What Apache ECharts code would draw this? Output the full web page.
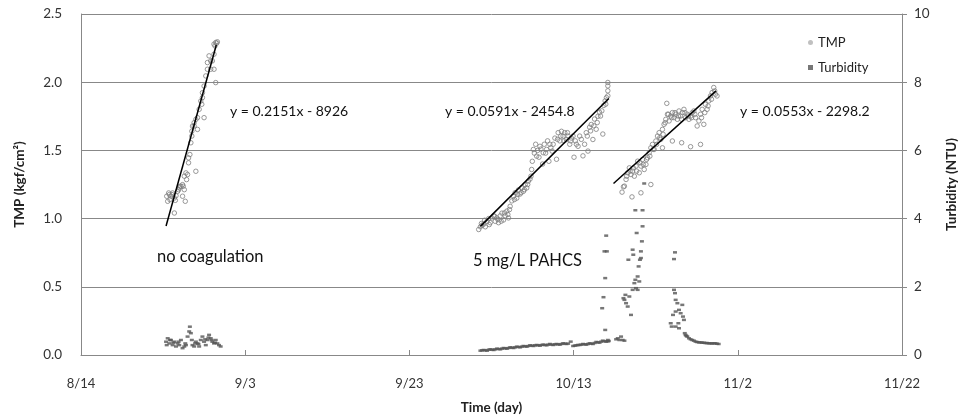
<!DOCTYPE html>
<html>
<head>
<meta charset="utf-8">
<script src="https://cdn.jsdelivr.net/npm/echarts@6/dist/echarts.min.js"></script>
<style>
html,body{margin:0;padding:0;background:#fff;}
#chart{width:967px;height:420px;}
</style>
</head>
<body>
<div id="chart"></div>
<script>
// x values: days since 8/14
const xTickLabels = ['8/14', '9/3', '9/23', '10/13', '11/2', '11/22'];

const tmpRun1 = [[10.56,1.127],[10.76,1.176],[10.96,1.164],[11.16,1.188],[11.37,1.151],[11.57,1.168],[11.77,1.20],[11.97,1.225],[12.17,1.237],[12.37,1.249],[12.58,1.212],[12.70,1.127],[12.37,1.164],[11.37,1.041],[10.44,1.164],[10.84,1.139],[12.58,1.311],[12.78,1.335],[12.86,1.286],[12.98,1.323],[13.99,1.347],[13.10,1.445],[13.26,1.47],[13.38,1.556],[13.50,1.605],[13.58,1.678],[13.78,1.703],[13.99,1.727],[14.19,1.654],[13.50,1.641],[14.99,1.74],[14.39,1.801],[14.59,1.862],[14.79,1.887],[14.71,1.838],[14.99,1.972],[15.20,2.046],[15.40,2.095],[15.80,2.095],[16.20,2.095],[16.41,1.997],[15.40,2.144],[15.60,2.193],[15.80,2.156],[16.0,2.156],[16.20,2.205],[16.20,2.279],[16.41,2.291],[16.61,2.296],[16.32,2.266],[16.53,2.286],[10.68,1.188],[11.08,1.176],[11.89,1.212],[12.05,1.237],[11.49,1.134],[12.45,1.237],[13.10,1.409],[13.78,1.678],[14.19,1.74],[14.79,1.923]];

const tmpRun2 = [[48.44,0.92],[48.65,0.94],[48.85,0.95],[49.05,0.96],[49.25,0.94],[49.45,0.98],[49.65,1.00],[49.85,0.97],[50.06,1.005],[50.26,1.02],[50.46,0.98],[50.66,1.005],[50.86,0.97],[51.06,1.02],[51.27,1.04],[51.47,0.99],[51.67,1.02],[51.87,1.055],[52.07,1.005],[52.27,1.09],[52.48,1.13],[52.68,1.165],[52.88,1.19],[53.08,1.15],[53.28,1.21],[53.48,1.18],[53.68,1.225],[53.89,1.20],[54.09,1.25],[54.29,1.225],[54.49,1.275],[54.69,1.29],[54.89,1.36],[54.97,1.42],[55.22,1.48],[55.38,1.545],[55.62,1.50],[55.78,1.45],[56.02,1.51],[56.22,1.40],[56.43,1.545],[56.59,1.48],[56.83,1.57],[56.99,1.42],[57.23,1.52],[57.51,1.545],[57.72,1.59],[57.92,1.435],[58.12,1.63],[58.32,1.57],[58.52,1.64],[58.72,1.605],[58.92,1.63],[59.13,1.58],[59.33,1.605],[59.53,1.545],[59.73,1.59],[60.05,1.45],[60.21,1.57],[60.54,1.53],[60.74,1.605],[61.14,1.46],[61.34,1.545],[61.54,1.63],[61.75,1.495],[61.95,1.67],[62.15,1.69],[62.35,1.58],[62.55,1.73],[62.75,1.655],[62.96,1.75],[63.16,1.78],[63.56,1.62],[63.68,1.83],[63.84,1.863],[64.00,1.887],[64.17,1.90],[64.17,1.937],[64.17,1.973],[64.17,1.998],[48.77,0.964],[49.17,0.988],[49.73,0.956],[50.38,1.017],[50.78,0.993],[51.18,0.981],[51.59,1.042],[51.99,1.03],[52.19,1.066],[52.80,1.14],[53.20,1.177],[53.60,1.19],[54.01,1.213],[54.41,1.25],[54.81,1.311],[55.10,1.507],[55.50,1.458],[55.90,1.53],[56.30,1.483],[56.71,1.507],[57.11,1.545],[57.39,1.495],[58.04,1.581],[58.44,1.605],[58.84,1.57],[59.25,1.63],[59.65,1.57],[59.93,1.605],[60.34,1.545],[60.94,1.581],[61.67,1.605],[62.07,1.643],[62.47,1.68],[62.88,1.704],[63.28,1.752],[63.44,1.79],[63.92,1.839]];

const tmpRun3 = [[65.90,1.194],[66.07,1.233],[66.19,1.238],[66.39,1.287],[66.59,1.336],[66.79,1.372],[66.99,1.323],[67.19,1.348],[67.40,1.311],[67.60,1.385],[67.80,1.421],[68.00,1.336],[68.20,1.385],[68.40,1.434],[68.60,1.36],[68.81,1.397],[69.01,1.446],[69.21,1.483],[69.41,1.519],[69.61,1.544],[69.81,1.507],[70.02,1.569],[70.22,1.605],[70.42,1.63],[70.62,1.581],[70.82,1.654],[71.02,1.691],[71.23,1.728],[71.35,1.845],[71.43,1.765],[71.63,1.716],[71.83,1.752],[72.03,1.777],[72.23,1.74],[72.43,1.765],[72.64,1.728],[72.84,1.789],[73.04,1.752],[73.24,1.777],[73.44,1.801],[73.64,1.74],[73.85,1.765],[74.05,1.728],[74.25,1.752],[74.45,1.777],[74.65,1.789],[74.85,1.74],[75.05,1.679],[75.26,1.716],[75.46,1.765],[75.66,1.801],[75.86,1.691],[76.06,1.838],[76.26,1.801],[76.47,1.863],[76.67,1.899],[76.87,1.924],[77.07,1.961],[77.27,1.912],[77.47,1.899],[67.11,1.159],[68.20,1.189],[69.41,1.25],[72.03,1.569],[73.16,1.556],[74.25,1.527],[75.46,1.544],[70.82,1.519],[66.47,1.311],[66.87,1.348],[67.27,1.372],[67.68,1.348],[68.08,1.409],[68.48,1.397],[68.89,1.434],[69.29,1.458],[69.69,1.507],[70.10,1.544],[70.50,1.593],[70.90,1.618],[71.15,1.703],[71.55,1.765],[71.95,1.74],[72.35,1.777],[72.76,1.752],[73.16,1.728],[73.56,1.777],[73.97,1.752],[74.37,1.74],[74.77,1.765],[75.58,1.74],[75.98,1.777],[76.38,1.826],[76.79,1.875],[77.19,1.936]];

const turbRun1 = [[10.36,0.39],[10.56,0.49],[10.76,0.34],[10.96,0.44],[11.16,0.29],[11.37,0.39],[11.57,0.25],[11.77,0.34],[11.97,0.29],[12.17,0.44],[12.37,0.20],[12.58,0.25],[12.78,0.29],[12.98,0.54],[13.18,0.69],[13.26,0.83],[13.38,0.64],[13.50,0.44],[13.58,0.29],[13.78,0.25],[13.99,0.39],[14.19,0.34],[14.39,0.25],[14.59,0.44],[14.79,0.54],[14.99,0.39],[15.20,0.29],[15.40,0.44],[15.60,0.59],[15.80,0.49],[16.0,0.39],[16.20,0.34],[16.41,0.44],[16.61,0.34],[16.81,0.29],[17.01,0.25],[10.44,0.29],[10.84,0.44],[11.24,0.36],[11.89,0.39],[12.70,0.34],[13.90,0.34],[14.31,0.32],[15.12,0.46],[15.52,0.51],[15.92,0.44],[16.32,0.36]];

const turbRun2 = [[48.65,0.127],[49.05,0.147],[49.46,0.127],[49.86,0.166],[50.26,0.147],[50.66,0.186],[51.07,0.166],[51.47,0.205],[51.87,0.186],[52.28,0.225],[52.68,0.205],[53.08,0.245],[53.49,0.225],[53.89,0.264],[54.29,0.245],[54.70,0.284],[55.10,0.264],[55.50,0.294],[55.90,0.274],[56.31,0.304],[56.71,0.284],[57.11,0.323],[57.52,0.294],[57.92,0.323],[58.32,0.304],[58.73,0.343],[59.13,0.323],[59.65,0.392],[59.94,0.264],[60.34,0.284],[60.74,0.294],[61.15,0.323],[61.55,0.304],[61.95,0.343],[62.35,0.323],[62.76,0.382],[63.16,0.362],[63.56,0.421],[63.97,0.392],[64.29,0.411],[63.97,3.50],[63.76,3.039],[64.05,3.039],[63.85,2.255],[63.64,1.695],[63.48,1.372],[63.85,0.735],[64.17,0.44],[48.85,0.137],[49.25,0.137],[49.66,0.156],[50.06,0.156],[50.46,0.166],[50.86,0.176],[51.27,0.186],[51.67,0.196],[52.07,0.205],[52.48,0.215],[52.88,0.225],[53.28,0.235],[53.69,0.245],[54.09,0.255],[54.49,0.264],[54.90,0.274],[55.30,0.284],[55.70,0.284],[56.11,0.294],[56.51,0.294],[56.91,0.304],[57.32,0.304],[57.72,0.313],[58.12,0.313],[58.53,0.323],[58.93,0.333],[59.33,0.333],[60.14,0.274],[60.54,0.294],[60.94,0.304],[61.35,0.313],[61.75,0.323],[62.15,0.333],[62.56,0.352],[62.96,0.372],[63.36,0.392],[63.76,0.401],[64.17,0.401]];

const turbRun3 = [[65.38,0.49],[65.58,0.44],[65.78,0.54],[65.98,0.44],[65.18,0.46],[66.19,0.42],[66.07,1.666],[66.19,1.617],[66.39,1.519],[66.59,1.421],[66.31,1.764],[66.79,1.715],[66.99,1.176],[67.19,1.911],[67.40,2.107],[67.52,2.206],[67.60,1.96],[67.80,1.911],[67.80,2.303],[68.00,2.157],[67.92,2.598],[68.08,2.794],[68.20,2.843],[68.20,3.039],[67.27,2.941],[67.19,3.088],[68.32,3.333],[68.40,3.774],[67.68,3.578],[66.67,2.794],[68.40,4.245],[67.52,4.245],[68.60,5.03],[72.35,3.01],[72.23,2.813],[72.23,1.911],[72.35,1.813],[72.43,1.617],[72.64,1.519],[72.11,1.176],[72.43,1.274],[72.84,1.323],[73.04,1.225],[73.24,1.47],[73.32,1.127],[73.44,1.029],[72.76,0.931],[71.83,0.931],[71.95,0.833],[72.43,0.833],[72.84,0.784],[73.64,0.588],[74.05,0.49],[74.45,0.44],[74.85,0.392],[75.66,0.362],[76.47,0.343],[77.27,0.343],[77.67,0.323],[73.85,0.54],[74.25,0.46],[74.65,0.42],[75.05,0.38],[75.26,0.37],[75.46,0.37],[75.86,0.36],[76.06,0.35],[76.26,0.35],[76.67,0.34],[76.87,0.34],[77.07,0.34],[77.47,0.33],[73.54,0.64],[73.74,0.56]];

const trend1 = [[10.36,0.946],[16.48,2.273]];
const trend2 = [[48.65,0.943],[64.29,1.88]];
const trend3 = [[64.86,1.257],[77.35,1.936]];

const trendLabels = ['y = 0.2151x - 8926', 'y = 0.0591x - 2454.8', 'y = 0.0553x - 2298.2'];
const runLabels = ['no coagulation', '5 mg/L PAHCS'];

const FONT = 'Lato, "Open Sans", sans-serif';
const chart = echarts.init(document.getElementById('chart'), null, {renderer: 'canvas'});

const trendSeries = [trend1, trend2, trend3].map(d => ({
  type: 'line', data: d, xAxisIndex: 0, yAxisIndex: 0,
  showSymbol: false, symbol: 'none', silent: true,
  lineStyle: {color: '#000', width: 1.5}, z: 5, animation: false
}));

chart.setOption({
  animation: false,
  backgroundColor: '#fff',
  textStyle: {fontFamily: FONT},
  grid: {left: 81, right: 59, top: 14, bottom: 65, containLabel: false},
  legend: {
    orient: 'vertical', left: 803, top: 31, itemGap: 12,
    itemWidth: 5, itemHeight: 5,
    textStyle: {fontFamily: FONT, fontSize: 13, color: '#222'},
    data: [
      {name: 'TMP', icon: 'circle', itemStyle: {color: '#b0b0b0', borderWidth: 0}},
      {name: 'Turbidity', icon: 'rect', itemStyle: {color: '#555'}}
    ]
  },
  xAxis: {
    type: 'value', min: 0, max: 100, interval: 20,
    name: 'Time (day)', nameLocation: 'middle', nameGap: 46,
    nameTextStyle: {fontFamily: FONT, fontSize: 13.5, fontWeight: 'bold', color: '#222'},
    axisLine: {lineStyle: {color: '#888', width: 1}},
    axisTick: {show: true, inside: true, length: 5, lineStyle: {color: '#888'}},
    axisLabel: {fontFamily: FONT, fontSize: 13, color: '#333', margin: 22,
      formatter: v => xTickLabels[Math.round(v / 20)]},
    splitLine: {show: false}
  },
  yAxis: [
    {
      type: 'value', min: 0, max: 2.5, interval: 0.5, position: 'left',
      name: 'TMP (kgf/cm²)', nameLocation: 'middle', nameGap: 54, nameRotate: 90,
      nameTextStyle: {fontFamily: FONT, fontSize: 13.5, fontWeight: 'bold', color: '#222'},
      axisLine: {show: true, lineStyle: {color: '#888', width: 1}},
      axisTick: {show: false},
      axisLabel: {fontFamily: FONT, fontSize: 13.5, color: '#333', margin: 19,
        formatter: v => v.toFixed(1)},
      splitLine: {show: true, lineStyle: {color: '#888', width: 1}}
    },
    {
      type: 'value', min: 0, max: 10, interval: 2, position: 'right',
      name: 'Turbidity (NTU)', nameLocation: 'middle', nameGap: 43, nameRotate: 90,
      nameTextStyle: {fontFamily: FONT, fontSize: 13.5, fontWeight: 'bold', color: '#222'},
      axisLine: {show: true, lineStyle: {color: '#888', width: 1}},
      axisTick: {show: true, inside: false, length: 5, lineStyle: {color: '#888'}},
      axisLabel: {fontFamily: FONT, fontSize: 13.5, color: '#333', margin: 12},
      splitLine: {show: false}
    }
  ],
  series: [
    {
      name: 'TMP', type: 'scatter', xAxisIndex: 0, yAxisIndex: 0,
      data: tmpRun1.concat(tmpRun2, tmpRun3),
      symbol: 'circle', symbolSize: 4.5,
      itemStyle: {color: 'rgba(255,255,255,0)', borderColor: '#808080', borderWidth: 1},
      z: 3
    },
    {
      name: 'Turbidity', type: 'scatter', xAxisIndex: 0, yAxisIndex: 1,
      data: turbRun1.concat(turbRun2, turbRun3),
      symbol: 'rect', symbolSize: [4, 2.5],
      itemStyle: {color: '#555'},
      z: 4
    }
  ].concat(trendSeries),
  graphic: [
    {type: 'text', left: 230, top: 104, style: {text: trendLabels[0], font: '14px ' + FONT, fill: '#111'}},
    {type: 'text', left: 445, top: 104, style: {text: trendLabels[1], font: '14px ' + FONT, fill: '#111'}},
    {type: 'text', left: 740, top: 104, style: {text: trendLabels[2], font: '14px ' + FONT, fill: '#111'}},
    {type: 'text', left: 157, top: 248, style: {text: runLabels[0], font: '16.5px ' + FONT, fill: '#111'}},
    {type: 'text', left: 473, top: 252, style: {text: runLabels[1], font: '16.5px ' + FONT, fill: '#111'}}
  ]
});
</script>
</body>
</html>
